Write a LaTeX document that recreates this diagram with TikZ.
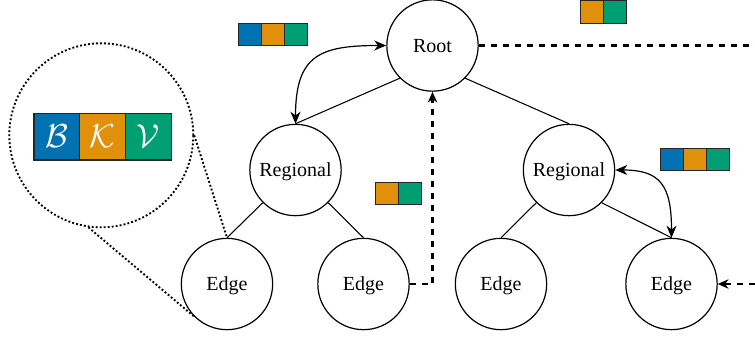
\documentclass[tikz,border=0pt]{standalone}
\usepackage{fontspec}
\setmainfont{Liberation Serif}
\usetikzlibrary{arrows.meta}
\definecolor{cblue}{HTML}{0072B2}
\definecolor{corange}{HTML}{E0900A}
\definecolor{cgreen}{HTML}{009E73}
\begin{document}
\begin{tikzpicture}[x=0.75pt,y=-0.75pt,
  tnode/.style={circle, draw, line width=0.9pt, minimum size=68.5pt, inner sep=0pt, text height=10pt, text depth=0pt, font=\fontsize{15}{18}\selectfont},
  tree/.style={line width=0.8pt},
  curvy/.style={line width=0.9pt, {Stealth[length=9pt,width=7.5pt,inset=2.8pt]}-{Stealth[length=9pt,width=7.5pt,inset=2.8pt]}},
  dashline/.style={line width=1.6pt, dash pattern=on 4.5pt off 4.5pt},
  dashtip/.style={-{Stealth[length=8pt,width=7pt,inset=2.5pt]}},
  dotline/.style={line width=1.4pt, dash pattern=on 1.4pt off 1.6pt},
  cell/.style={draw=black!85, line width=0.8pt, minimum width=17.25pt, minimum height=16.9pt, inner sep=0pt, anchor=north west},
  bigcell/.style={draw=black!85, line width=0.9pt, minimum width=34.35pt, minimum height=35pt, inner sep=0pt, anchor=north west, text=white, font=\fontsize{23}{27}\selectfont}
]
\useasboundingbox (0,0) rectangle (755,337);

% tree nodes
\node[tnode] (root) at (432.5,45.5) {Root};
\node[tnode] (regL) at (295.5,170) {Regional};
\node[tnode] (regR) at (569,170) {Regional};
\node[tnode] (e1) at (227,284) {Edge};
\node[tnode] (e2) at (363.5,284) {Edge};
\node[tnode] (e3) at (501,284) {Edge};
\node[tnode] (e4) at (671.5,284) {Edge};

% tree lines
\draw[tree] (root.south west) -- (regL.north);
\draw[tree] (root.south east) -- (regR.north);
\draw[tree] (regL.south west) -- (e1.north);
\draw[tree] (regL.south east) -- (e2.north);
\draw[tree] (regR.south west) -- (e3.north);
\draw[tree] (regR.south east) -- (e4.north);

% curved double arrows
\draw[curvy] (regL.north) .. controls (295.5,55) and (320,45.5) .. (root.west);
\draw[curvy] (regR.east) .. controls (660,170) and (671.5,185) .. (e4.north);

% dashed connectors
\coordinate (outR) at (755,45.5);
\coordinate (inR) at (755,284);
\draw[dashline] (root.east) -- (outR);
\draw[dashline, dashtip] (e2.east) -| (root.south);
\draw[dashline, dashtip] (inR) -- (e4.east);

% zoom circle
\node[circle, draw, dotline, minimum size=138pt, inner sep=0pt] (zoom) at (101.3,135.3) {};
\draw[dotline] (zoom.east) -- (e1.north);
\draw[dotline] (zoom.-98) -- (e1.south west);

% big block
\node[bigcell, fill=cblue] (bB) at (33.3,112.7) {$\mathcal{B}$};
\node[bigcell, fill=corange] (bK) at (79.1,112.7) {$\mathcal{K}$};
\node[bigcell, fill=cgreen] (bV) at (124.9,112.7) {$\mathcal{V}$};

% small blocks
\node[cell, fill=cblue] (a1) at (238.3,22.7) {};
\node[cell, fill=corange] (a2) at (261.3,22.7) {};
\node[cell, fill=cgreen] (a3) at (284.3,22.7) {};

\node[cell, fill=corange] (b1) at (580,0) {};
\node[cell, fill=cgreen] (b2) at (603.3,0) {};

\node[cell, fill=corange] (c1) at (375,181.7) {};
\node[cell, fill=cgreen] (c2) at (398,181.7) {};

\node[cell, fill=cblue] (d1) at (660,147.7) {};
\node[cell, fill=corange] (d2) at (683,147.7) {};
\node[cell, fill=cgreen] (d3) at (706,147.7) {};
\end{tikzpicture}
\end{document}
